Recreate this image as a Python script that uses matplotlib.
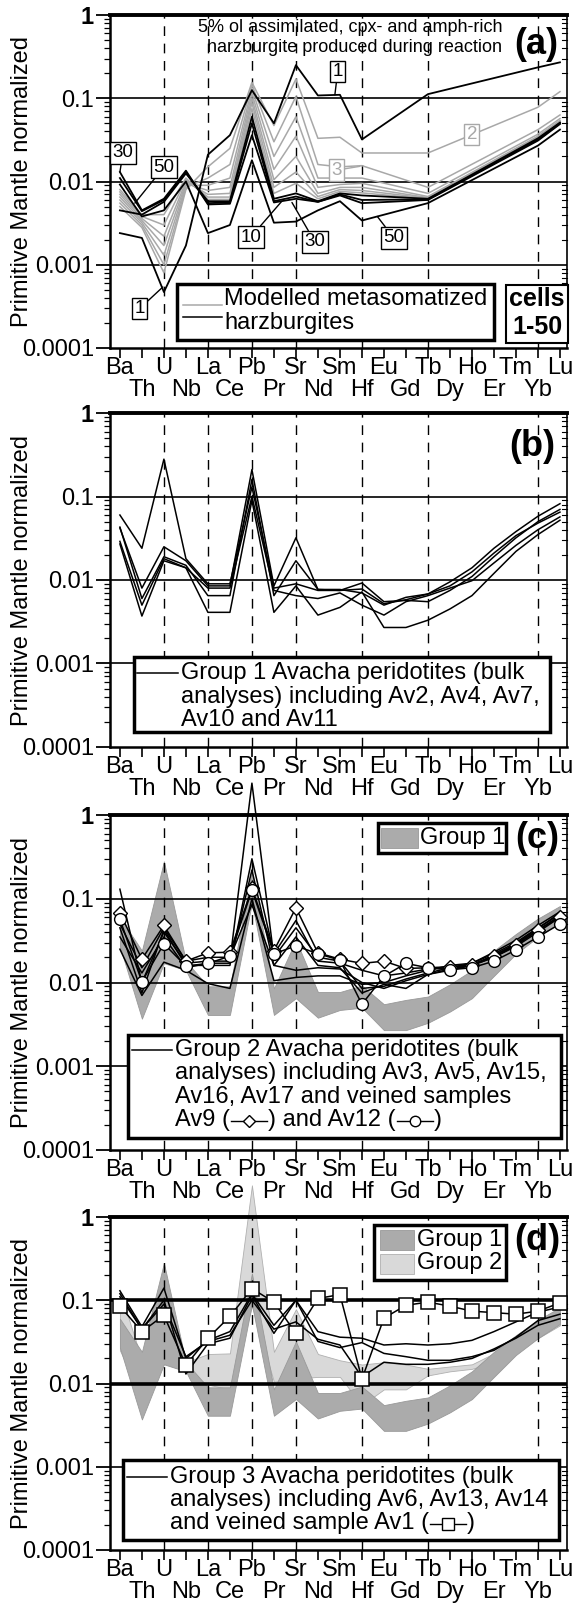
import numpy as np
import matplotlib
matplotlib.use("Agg")
import matplotlib.pyplot as plt
from matplotlib.lines import Line2D
from matplotlib.patches import Rectangle
from matplotlib.ticker import LogLocator, NullFormatter

plt.rcParams['font.family'] = ['Liberation Sans', 'DejaVu Sans']

# ---------------------------------------------------------------------------
# data (primitive-mantle normalized)
# ---------------------------------------------------------------------------
ELEMENTS = ["Ba", "Th", "U", "Nb", "La", "Ce", "Pb", "Pr", "Sr", "Nd", "Sm",
            "Hf", "Eu", "Gd", "Tb", "Dy", "Ho", "Er", "Tm", "Yb", "Lu"]
DASHED = ["U", "La", "Pb", "Sr", "Hf", "Tb", "Yb"]

# model only reports Ba..Hf, Tb, Yb, Lu
MODEL_ELEMENTS = ["Ba", "Th", "U", "Nb", "La", "Ce", "Pb", "Pr", "Sr", "Nd",
                  "Sm", "Hf", "Tb", "Yb", "Lu"]
CELL_1 = [0.0024, 0.0021, 0.00047, 0.0017, 0.021, 0.036, 0.125, 0.05, 0.25, 0.108, 0.11, 0.032, 0.112, 0.235, 0.27]
CELL_2 = [0.005, 0.0028, 0.0008, 0.008, 0.015, 0.025, 0.155, 0.047, 0.17, 0.033, 0.034, 0.022, 0.022, 0.078, 0.12]
CELL_3 = [0.0055, 0.003, 0.001, 0.0085, 0.011, 0.016, 0.145, 0.03, 0.105, 0.016, 0.015, 0.0155, 0.0085, 0.042, 0.063]
CELL_4 = [0.006, 0.0032, 0.0013, 0.009, 0.009, 0.011, 0.13, 0.02, 0.06, 0.011, 0.011, 0.011, 0.0072, 0.037, 0.057]
CELL_5 = [0.0065, 0.0034, 0.0017, 0.0095, 0.0078, 0.0085, 0.115, 0.014, 0.035, 0.0085, 0.0092, 0.0095, 0.0066, 0.035, 0.054]
CELL_6 = [0.007, 0.0036, 0.0022, 0.01, 0.007, 0.0072, 0.1, 0.0105, 0.02, 0.0072, 0.0085, 0.0085, 0.0064, 0.034, 0.053]
CELL_7 = [0.0075, 0.0038, 0.003, 0.0105, 0.0065, 0.0065, 0.088, 0.0085, 0.013, 0.0066, 0.008, 0.0078, 0.0063, 0.034, 0.052]
CELL_8 = [0.008, 0.004, 0.004, 0.011, 0.0061, 0.0061, 0.075, 0.0072, 0.0095, 0.0062, 0.0076, 0.0073, 0.0062, 0.033, 0.051]
CELL_10 = [0.0045, 0.0040, 0.0057, 0.0125, 0.0058, 0.0058, 0.06, 0.0062, 0.0072, 0.0058, 0.0072, 0.0068, 0.0062, 0.033, 0.051]
CELL_20 = [0.011, 0.0044, 0.006, 0.013, 0.0055, 0.0056, 0.05, 0.0058, 0.0066, 0.0057, 0.007, 0.006, 0.0061, 0.032, 0.05]
CELL_30 = [0.013, 0.0045, 0.0062, 0.0135, 0.0053, 0.0054, 0.036, 0.0056, 0.0062, 0.0057, 0.0068, 0.0055, 0.006, 0.031, 0.049]
CELL_50 = [0.0092, 0.0038, 0.0045, 0.01, 0.0024, 0.003, 0.018, 0.0032, 0.0033, 0.0045, 0.0058, 0.0034, 0.0055, 0.027, 0.042]
GREY_CELLS = [CELL_2, CELL_3, CELL_4, CELL_5, CELL_6, CELL_7, CELL_8]
BLACK_CELLS = [CELL_1, CELL_10, CELL_20, CELL_30, CELL_50]

# Group 1 Avacha peridotites
G1_AV2 = [0.06, 0.024, 0.28, 0.018, 0.009, 0.009, 0.13, 0.008, 0.009, 0.0075, 0.0075, 0.0078, 0.0052, 0.0058, 0.0068, 0.0095, 0.014, 0.024, 0.038, 0.058, 0.082]
G1_AV4 = [0.042, 0.008, 0.025, 0.017, 0.0085, 0.0085, 0.21, 0.0085, 0.032, 0.0077, 0.0075, 0.0092, 0.0055, 0.0057, 0.0055, 0.0075, 0.011, 0.019, 0.032, 0.05, 0.07]
G1_AV7 = [0.043, 0.006, 0.019, 0.015, 0.0065, 0.0065, 0.16, 0.0065, 0.017, 0.0077, 0.0077, 0.007, 0.005, 0.0062, 0.0068, 0.0085, 0.0125, 0.021, 0.034, 0.048, 0.065]
G1_AV10 = [0.029, 0.005, 0.018, 0.014, 0.008, 0.008, 0.1, 0.0075, 0.0065, 0.006, 0.007, 0.005, 0.0038, 0.0055, 0.0065, 0.008, 0.0098, 0.016, 0.026, 0.04, 0.057]
G1_AV11 = [0.027, 0.0037, 0.017, 0.014, 0.0041, 0.0041, 0.09, 0.0041, 0.0085, 0.0038, 0.0047, 0.0072, 0.0027, 0.0027, 0.0033, 0.0045, 0.0065, 0.012, 0.022, 0.035, 0.052]
GROUP1 = [G1_AV2, G1_AV4, G1_AV7, G1_AV10, G1_AV11]

# Group 2
G2_AV3 = [0.13, 0.01, 0.04, 0.017, 0.018, 0.018, 2.4, 0.02, 0.045, 0.02, 0.018, 0.0085, 0.009, 0.011, 0.013, 0.015, 0.017, 0.022, 0.03, 0.045, 0.065]
G2_AV5 = [0.045, 0.0075, 0.043, 0.016, 0.016, 0.016, 0.3, 0.022, 0.055, 0.018, 0.017, 0.014, 0.012, 0.013, 0.0145, 0.015, 0.016, 0.02, 0.027, 0.04, 0.06]
G2_AV15 = [0.035, 0.013, 0.035, 0.015, 0.017, 0.017, 0.22, 0.016, 0.035, 0.016, 0.015, 0.0075, 0.0095, 0.0085, 0.0125, 0.014, 0.016, 0.021, 0.029, 0.044, 0.068]
G2_AV16 = [0.025, 0.007, 0.0175, 0.014, 0.0097, 0.0085, 0.1, 0.0105, 0.0115, 0.012, 0.012, 0.0095, 0.01, 0.012, 0.014, 0.016, 0.017, 0.023, 0.032, 0.048, 0.07]
G2_AV17 = [0.05, 0.015, 0.045, 0.018, 0.02, 0.02, 0.085, 0.016, 0.014, 0.015, 0.0145, 0.01, 0.0085, 0.0105, 0.0125, 0.0145, 0.016, 0.02, 0.028, 0.042, 0.063]
AV9 = [0.068, 0.019, 0.048, 0.018, 0.0226, 0.023, 0.133, 0.024, 0.078, 0.0226, 0.019, 0.0169, 0.018, 0.0147, 0.015, 0.0154, 0.0164, 0.021, 0.028, 0.042, 0.061]
AV12 = [0.057, 0.0102, 0.029, 0.0157, 0.0169, 0.0206, 0.127, 0.022, 0.0274, 0.022, 0.0185, 0.0055, 0.0119, 0.0169, 0.015, 0.0142, 0.015, 0.018, 0.0245, 0.035, 0.05]
GROUP2 = [G2_AV3, G2_AV5, G2_AV15, G2_AV16, G2_AV17]

# Group 3
G3_AV6 = [0.13, 0.048, 0.14, 0.02, 0.033, 0.042, 0.12, 0.05, 0.1, 0.042, 0.036, 0.035, 0.029, 0.03, 0.029, 0.03, 0.033, 0.042, 0.055, 0.072, 0.083]
G3_AV13 = [0.12, 0.045, 0.1, 0.013, 0.03, 0.035, 0.115, 0.04, 0.1, 0.032, 0.027, 0.031, 0.023, 0.021, 0.019, 0.019, 0.021, 0.025, 0.036, 0.057, 0.068]
G3_AV14 = [0.11, 0.045, 0.09, 0.021, 0.032, 0.038, 0.1, 0.045, 0.055, 0.034, 0.029, 0.012, 0.018, 0.017, 0.017, 0.018, 0.02, 0.026, 0.035, 0.05, 0.06]
AV1 = [0.085, 0.042, 0.066, 0.0166, 0.035, 0.064, 0.138, 0.095, 0.04, 0.105, 0.117, 0.0113, 0.061, 0.087, 0.095, 0.085, 0.074, 0.071, 0.068, 0.074, 0.093]
GROUP3 = [G3_AV6, G3_AV13, G3_AV14]

# ---------------------------------------------------------------------------
W, H = 572, 1604
AX_L, AX_R = 110, 567
PANELS = {"a": (15, 348), "b": (413, 747), "c": (815, 1150), "d": (1217, 1550)}
GREY_LINE = "#a8a8a8"
BAND1 = "#ababab"
BAND2 = "#d9d9d9"
FS = 17

x_all = np.arange(len(ELEMENTS))
x_model = np.array([ELEMENTS.index(e) for e in MODEL_ELEMENTS])

fig = plt.figure(figsize=(W / 100, H / 100), dpi=100)


def fx(x):
    return x / W


def fy(y):
    return 1 - y / H


def make_axes(key, thick_grid=False):
    top, bot = PANELS[key]
    ax = fig.add_axes([fx(AX_L), fy(bot), (AX_R - AX_L) / W, (bot - top) / H])
    ax.set_yscale("log")
    ax.set_ylim(1e-4, 1)
    ax.set_xlim(-0.45, 20.32)
    for e in DASHED:
        ax.axvline(ELEMENTS.index(e), color="k", lw=1.0, dashes=(7, 5.5), zorder=1)
    for v in (0.1, 0.01, 0.001):
        lw = 2.6 if (thick_grid and v > 0.005) else 1.2
        ax.axhline(v, color="k", lw=lw, zorder=1)
    ax.spines["top"].set_linewidth(2.8)
    ax.spines["bottom"].set_linewidth(1.8)
    ax.spines["left"].set_linewidth(1.8)
    ax.spines["right"].set_linewidth(1.2)

    ax.set_xticks(x_all)
    ax.set_xticklabels([])
    ax.tick_params(axis="x", direction="out", length=7, width=1.2)
    for i, e in enumerate(ELEMENTS):
        dy = -20 if i % 2 == 0 else -42
        ax.annotate(e, xy=(i, 0), xycoords=("data", "axes fraction"),
                    xytext=(0, dy), textcoords="offset pixels",
                    ha="center", va="center", fontsize=FS, annotation_clip=False)

    ax.set_yticks([1e-4, 1e-3, 1e-2, 1e-1, 1])
    ax.set_yticklabels(["0.0001", "0.001", "0.01", "0.1", "1"], fontsize=FS)
    ax.get_yticklabels()[-1].set_fontweight("bold")
    ax.yaxis.set_minor_locator(LogLocator(base=10, subs=np.arange(2, 10), numticks=20))
    ax.yaxis.set_minor_formatter(NullFormatter())
    ax.tick_params(axis="y", which="major", direction="out", length=10, width=1.3, pad=1.5)
    ax.tick_params(axis="y", which="minor", direction="out", length=4.5, width=0.9)
    trans = ax.get_yaxis_transform()
    for d in range(-4, 0):
        for s in range(2, 10):
            ax.plot([1, 0.989], [s * 10.0 ** d] * 2, transform=trans, color="k",
                    lw=0.8, clip_on=False)

    fig.text(fx(22.5), fy((top + bot) / 2), "Primitive Mantle normalized",
             rotation=90, ha="center", va="center", fontsize=FS)
    return ax


def box(x0, y0, x1, y1, lw=2.5):
    fig.add_artist(Rectangle((fx(x0), fy(y1)), (x1 - x0) / W, (y1 - y0) / H,
                             transform=fig.transFigure, fc="white", ec="k", lw=lw,
                             zorder=5))


def fline(x0, x1, y, color="k", lw=1.1):
    fig.add_artist(Line2D([fx(x0), fx(x1)], [fy(y), fy(y)], color=color, lw=lw, zorder=6))


def ftext(x, y, s, **kw):
    kw.setdefault("fontsize", FS)
    kw.setdefault("ha", "left")
    kw.setdefault("va", "center")
    return fig.text(fx(x), fy(y), s, zorder=7, **kw)


renderer = fig.canvas.get_renderer()


def seq_text(x0, y, parts):
    x = x0
    for p in parts:
        if isinstance(p, str):
            t = ftext(x, y, p)
            x += t.get_window_extent(renderer).width
        else:
            w = 38
            fline(x + 1, x + w - 1, y + 1, lw=1.0)
            fig.add_artist(Line2D([fx(x + w / 2)], [fy(y + 1)], marker=p[0], ms=p[1],
                                  mfc="white", mec="k", mew=1.0, zorder=7))
            x += w


def envelope(series):
    arr = np.array(series)
    return arr.min(axis=0), arr.max(axis=0)


# ---------------------------------------------------------------------------
# (a) model
# ---------------------------------------------------------------------------
ax = make_axes("a")
for cell in GREY_CELLS:
    ax.plot(x_model, cell, color=GREY_LINE, lw=1.1, zorder=2)
for cell in BLACK_CELLS:
    ax.plot(x_model, cell, color="k", lw=1.3, zorder=3)

num_box = dict(boxstyle="square,pad=0.12", fc="white", ec="k", lw=1.0)
grey_box = dict(boxstyle="square,pad=0.12", fc="white", ec=GREY_LINE, lw=1.0)
arrow_k = dict(arrowstyle="-", color="k", lw=1.0, shrinkA=0, shrinkB=0)
arrow_g = dict(arrowstyle="-", color=GREY_LINE, lw=1.0, shrinkA=0, shrinkB=0)
labels_a = [
    ("30", (0.0, 0.013), (0.14, 0.022), "k"),
    ("50", (0.68, 0.0055), (2.0, 0.0149), "k"),
    ("1", (1.95, 0.00054), (0.91, 0.0003), "k"),
    ("10", (7.36, 0.0058), (5.95, 0.00215), "k"),
    ("30", (7.82, 0.0056), (8.86, 0.00188), "k"),
    ("1", (9.77, 0.11), (9.9, 0.21), "k"),
    ("50", (11.7, 0.0038), (12.45, 0.0021), "k"),
    ("3", (10.9, 0.0152), (9.86, 0.0137), "g"),
    ("2", (16.0, 0.0365), (16.0, 0.0365), "g"),
]
for s, xy, xyt, c in labels_a:
    ax.annotate(s, xy=xy, xytext=xyt, ha="center", va="center", fontsize=13.5,
                color="k" if c == "k" else GREY_LINE,
                bbox=num_box if c == "k" else grey_box,
                arrowprops=arrow_k if c == "k" else arrow_g, zorder=4)

ftext(502, 28, "5% ol assimilated, cpx- and amph-rich", ha="right", fontsize=13)
ftext(502, 47, "harzburgite produced during reaction", ha="right", fontsize=13)
ftext(536, 45, "(a)", ha="center", fontsize=26, fontweight="bold")

box(177, 284, 494, 340)
fline(183, 222, 305, color=GREY_LINE)
fline(183, 222, 317)
ftext(224, 299, "Modelled metasomatized")
ftext(224, 323, "harzburgites")
box(506, 285, 568, 343, lw=1.5)
ftext(537, 299, "cells", ha="center", fontsize=18, fontweight="bold")
ftext(537, 327, "1-50", ha="center", fontsize=18, fontweight="bold")

# ---------------------------------------------------------------------------
# (b) Group 1
# ---------------------------------------------------------------------------
ax = make_axes("b")
for s in GROUP1:
    ax.plot(x_all, s, color="k", lw=1.1, zorder=3)
ftext(532, 446, "(b)", ha="center", fontsize=26, fontweight="bold")
box(134, 657, 550, 732)
fline(137, 178, 673)
ftext(181, 673, "Group 1 Avacha peridotites (bulk")
ftext(181, 697, "analyses) including Av2, Av4, Av7,")
ftext(181, 720, "Av10 and Av11")

# ---------------------------------------------------------------------------
# (c) Group 2
# ---------------------------------------------------------------------------
ax = make_axes("c")
lo1, hi1 = envelope(GROUP1)
ax.fill_between(x_all, lo1, hi1, facecolor=BAND1, edgecolor="#999999", lw=0.6, zorder=0.5)
for s in GROUP2:
    ax.plot(x_all, s, color="k", lw=1.1, zorder=3, clip_on=False)
ax.plot(x_all, AV9, color="k", lw=1.1, marker="D", ms=7, mfc="white", mec="k",
        mew=1.0, zorder=4)
ax.plot(x_all, AV12, color="k", lw=1.1, marker="o", ms=8.5, mfc="white", mec="k",
        mew=1.0, zorder=4)
ftext(537, 838, "(c)", ha="center", fontsize=26, fontweight="bold")
box(378, 823, 506, 853)
fig.add_artist(Rectangle((fx(381), fy(848)), 37 / W, 20 / H, transform=fig.transFigure,
                         fc=BAND1, ec="#999999", lw=0.6, zorder=6))
ftext(420, 838, "Group 1")
box(128, 1035, 561, 1138)
fline(132, 172, 1050)
ftext(175, 1050, "Group 2 Avacha peridotites (bulk")
ftext(175, 1073, "analyses) including Av3, Av5, Av15,")
ftext(175, 1097, "Av16, Av17 and veined samples")
seq_text(175, 1120, ["Av9 (", ("D", 6.5), ") and Av12 (", ("o", 7.5), ")"])

# ---------------------------------------------------------------------------
# (d) Group 3
# ---------------------------------------------------------------------------
ax = make_axes("d", thick_grid=True)
lo2, hi2 = envelope(GROUP2 + [AV9, AV12])
band2 = ax.fill_between(x_all, lo2, hi2, facecolor=BAND2, edgecolor="#b0b0b0", lw=0.6,
                        zorder=0.5)
band2.set_clip_on(False)
ax.fill_between(x_all, lo1, hi1, facecolor=BAND1, edgecolor="#999999", lw=0.6, zorder=0.6)
for s in GROUP3:
    ax.plot(x_all, s, color="k", lw=1.1, zorder=3)
ax.plot(x_all, AV1, color="k", lw=1.1, marker="s", ms=10, mfc="white", mec="k",
        mew=1.1, zorder=4)
ftext(537, 1240, "(d)", ha="center", fontsize=26, fontweight="bold")
box(374, 1225, 506, 1280)
fig.add_artist(Rectangle((fx(380), fy(1250)), 34 / W, 20 / H, transform=fig.transFigure,
                         fc=BAND1, ec="#999999", lw=0.6, zorder=6))
fig.add_artist(Rectangle((fx(380), fy(1274)), 34 / W, 20 / H, transform=fig.transFigure,
                         fc=BAND2, ec="#b0b0b0", lw=0.6, zorder=6))
ftext(417, 1240, "Group 1")
ftext(417, 1263, "Group 2")
box(123, 1460, 559, 1540)
fline(127, 167, 1477)
ftext(170, 1477, "Group 3 Avacha peridotites (bulk")
ftext(170, 1500, "analyses) including Av6, Av13, Av14")
seq_text(170, 1523, ["and veined sample Av1 (", ("s", 8), ")"])

fig.savefig("out.png", dpi=100)
